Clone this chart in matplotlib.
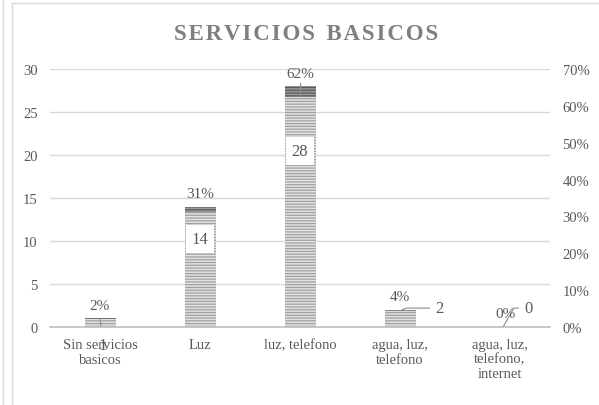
import matplotlib
matplotlib.use("Agg")
from matplotlib import pyplot as plt
from matplotlib.lines import Line2D
import numpy as np

categories = ["Sin servicios\nbasicos", "Luz", "luz, telefono",
              "agua, luz,\ntelefono", "agua, luz,\ntelefono,\ninternet"]
counts = [1, 14, 28, 2, 0]
percents = [0.02, 0.31, 0.62, 0.04, 0.00]
pct_labels = ["2%", "31%", "62%", "4%", "0%"]

left_ticks = [0, 5, 10, 15, 20, 25, 30]
right_ticks = [0, 0.1, 0.2, 0.3, 0.4, 0.5, 0.6, 0.7]

plt.rcParams["font.family"] = ["Liberation Serif", "DejaVu Serif"]
TXT = "#595959"
GRID = "#d9d9d9"

fig = plt.figure(figsize=(5.99, 4.06), dpi=100)
ax = fig.add_axes([50 / 599, 78 / 406, 500 / 599, 258 / 406])

x = np.arange(len(categories))
w = 0.31

# main bars, striped
plt.rcParams["hatch.linewidth"] = 0.9
ax.bar(x, counts, width=w, color="#e2e2e2", edgecolor="#a0a0a0",
       hatch="------", linewidth=0, zorder=3)
# darker cap for the percentage series
seg = [p * 2.1 for p in percents]
ax.bar(x, seg, bottom=[c - s for c, s in zip(counts, seg)], width=w,
       color="#9a9a9a", edgecolor="#5a5a5a", hatch="------", linewidth=0,
       zorder=4)

ax.set_xlim(-0.5, len(categories) - 0.5)
ax.set_ylim(0, 30)
ax.set_yticks(left_ticks)
ax.set_xticks(x)
ax.set_xticklabels(categories, fontsize=10.5, color=TXT, linespacing=1.15)
ax.tick_params(axis="both", length=0, labelsize=10.5, labelcolor=TXT)
ax.tick_params(axis="y", pad=9)
ax.tick_params(axis="x", pad=8)
ax.grid(axis="y", color=GRID, linewidth=1, zorder=0)
for s in ["top", "right", "left"]:
    ax.spines[s].set_visible(False)
ax.spines["bottom"].set_color("#bfbfbf")
ax.spines["bottom"].set_linewidth(1.2)
ax.spines["bottom"].set_zorder(5)

ax2 = ax.twinx()
ax2.set_ylim(0, 0.7)
ax2.set_yticks(right_ticks)
ax2.set_yticklabels([f"{int(round(t * 100))}%" for t in right_ticks])
ax2.tick_params(axis="y", length=0, labelsize=10.5, labelcolor=TXT, pad=9)
for s in ax2.spines.values():
    s.set_visible(False)

# count labels
for i, c in enumerate(counts):
    if c >= 10:
        ax.text(i, c * 0.73, str(c), ha="center", va="center", fontsize=12,
                color=TXT, zorder=6,
                bbox=dict(boxstyle="square,pad=0.35", fc="white", ec="none"))

# small counts with leader lines
ax.annotate(str(counts[0]), xy=(0, counts[0] - 0.1), xytext=(0.03, -2.1),
            ha="center", va="center", fontsize=12, color=TXT,
            arrowprops=dict(arrowstyle="-", color="#8c8c8c", lw=0.8,
                            shrinkA=6, shrinkB=0), annotation_clip=False)
ax.annotate(str(counts[3]), xy=(3.02, counts[3]), xytext=(3.35, 2.2),
            ha="left", va="center", fontsize=12, color=TXT,
            arrowprops=dict(arrowstyle="-", color="#8c8c8c", lw=0.8,
                            shrinkA=2, shrinkB=0,
                            connectionstyle="angle,angleA=0,angleB=20,rad=0"))
ax.annotate(str(counts[4]), xy=(4.03, counts[4]), xytext=(4.24, 2.2),
            ha="left", va="center", fontsize=12, color=TXT,
            arrowprops=dict(arrowstyle="-", color="#8c8c8c", lw=0.8,
                            shrinkA=2, shrinkB=0,
                            connectionstyle="angle,angleA=0,angleB=60,rad=0"))

# percent labels
for i, (c, lab) in enumerate(zip(counts, pct_labels)):
    if i == 4:
        ax.text(i + 0.05, 1.6, lab, ha="center", va="center", fontsize=11,
                color=TXT, zorder=6)
    else:
        ax.text(i, c + 1.5, lab, ha="center", va="center", fontsize=11,
                color=TXT, zorder=6)
# leader for 62%
ax.plot([2, 2], [counts[2] - 1.1, counts[2] + 0.4], color="#8c8c8c",
        lw=0.8, zorder=6)

title = "\u200a".join("SERVICIOS") + "\u2002" + "\u200a".join("BASICOS")
fig.text(306 / 599, 1 - 35 / 406, title,
         ha="center", va="center", fontsize=16.5, fontweight="bold",
         color="#7f7f7f")

# chart frame lines
fig.add_artist(Line2D([3 / 599, 3 / 599], [0, 1], color="#d9d9d9", lw=1))
fig.add_artist(Line2D([12 / 599, 12 / 599], [0, 1 - 4 / 406], color="#d9d9d9", lw=1))
fig.add_artist(Line2D([12 / 599, 1], [1 - 4 / 406, 1 - 4 / 406], color="#d9d9d9", lw=1))

fig.savefig("out.png", dpi=100)
